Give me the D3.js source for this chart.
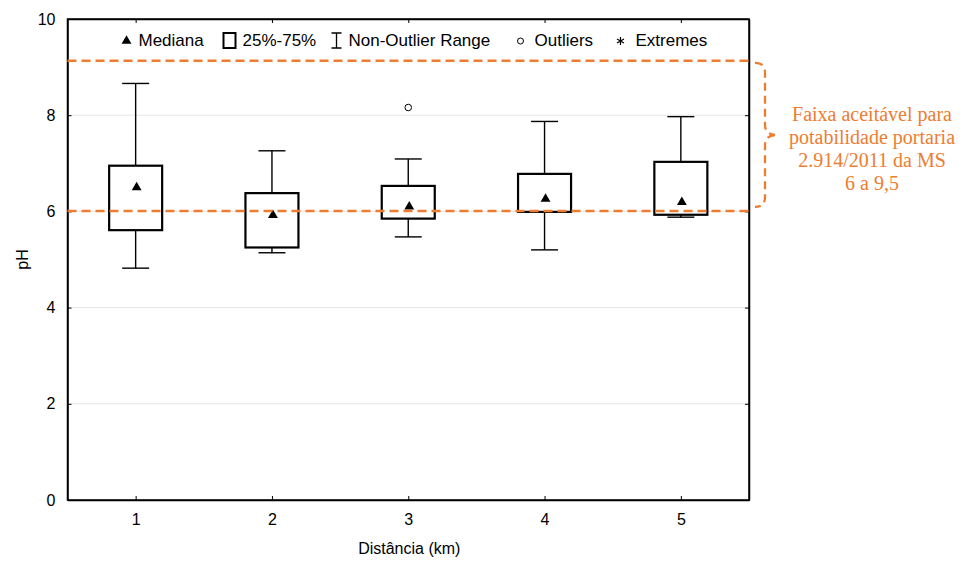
<!DOCTYPE html>
<html>
<head>
<meta charset="utf-8">
<script src="https://cdn.jsdelivr.net/npm/d3@7"></script>
<style>
  body { margin: 0; background: #fff; }
  svg text { font-family: "Liberation Sans", Arial, sans-serif; }
</style>
</head>
<body>
<div id="chart"></div>
<script>
// box plot values (pH) per distance
var distances = [1, 2, 3, 4, 5];
var whiskerLow = [4.82, 5.14, 5.47, 5.20, 5.88];
var q1 = [5.61, 5.25, 5.85, 5.99, 5.93];
var medians = [6.50, 5.92, 6.10, 6.26, 6.19];
var q3 = [6.95, 6.38, 6.53, 6.78, 7.03];
var whiskerHigh = [8.66, 7.26, 7.09, 7.87, 7.97];
var outliers = [[3, 8.16]];

var yTicks = [0, 2, 4, 6, 8, 10];
var gridTicks = [2, 4, 6, 8];
var limits = [6.01, 9.13];   // orange lines as drawn
var legendItems = ["Mediana", "25%-75%", "Non-Outlier Range", "Outliers", "Extremes"];
var noteLines = ["Faixa aceitável para", "potabilidade portaria", "2.914/2011 da MS", "6 a 9,5"];

var rows = distances.map(function(d, i) {
    return {d: d, lo: whiskerLow[i], q1: q1[i], med: medians[i], q3: q3[i], hi: whiskerHigh[i]};
});

var W = 970, H = 561;
var margin = {top: 19, left: 67.5, right: 221, bottom: 61};
var width = W - margin.left - margin.right;
var height = H - margin.top - margin.bottom;
var orange = "#ED7D31";

var svg = d3.select("#chart").append("svg")
    .attr("width", W)
    .attr("height", H);

var g = svg.append("g")
    .attr("transform", "translate(" + margin.left + "," + margin.top + ")");

var x = d3.scaleLinear().domain([0.5, 5.5]).range([0, width]);
var y = d3.scaleLinear().domain([0, 10]).range([height, 0]);

// grid
g.selectAll(".grid")
    .data(gridTicks)
    .enter().append("line")
    .attr("x1", 0).attr("x2", width)
    .attr("y1", function(d) { return y(d); })
    .attr("y2", function(d) { return y(d); })
    .attr("stroke", "#c8c8c8")
    .attr("stroke-width", 1)
    .attr("stroke-dasharray", "1,1");

// axes (ticks inside)
var yAxis = d3.axisLeft(y).tickValues(yTicks).tickSizeInner(-4).tickSizeOuter(0).tickPadding(12).tickFormat(d3.format("d"));
var xAxis = d3.axisBottom(x).tickValues(distances).tickSizeInner(-4).tickSizeOuter(0).tickPadding(14).tickFormat(d3.format("d"));

g.append("g").call(yAxis);
g.append("g").attr("transform", "translate(0," + height + ")").call(xAxis);
g.append("g").call(d3.axisTop(x).tickValues(distances).tickSizeInner(-4).tickSizeOuter(0).tickFormat(""));
g.append("g").attr("transform", "translate(" + width + ",0)")
    .call(d3.axisRight(y).tickValues(yTicks).tickSizeInner(-4).tickSizeOuter(0).tickFormat(""));

svg.selectAll(".domain").attr("stroke", "#000").attr("stroke-width", 1.5);
svg.selectAll(".tick line").attr("stroke", "#000");
svg.selectAll(".tick text").attr("font-size", 16).attr("fill", "#000")
    .style("font-family", "'Liberation Sans', Arial, sans-serif");

g.append("rect")
    .attr("width", width).attr("height", height)
    .attr("fill", "none").attr("stroke", "#000").attr("stroke-width", 1.5);

// axis titles
g.append("text")
    .attr("x", width / 2 + 1).attr("y", height + 54)
    .attr("text-anchor", "middle").attr("font-size", 16)
    .text("Distância (km)");

g.append("text")
    .attr("transform", "translate(" + (-40) + "," + (height / 2) + ") rotate(-90)")
    .attr("text-anchor", "middle").attr("font-size", 16)
    .text("pH");

// boxes
var boxW = 53, capW = 27;
var box = g.selectAll(".box")
    .data(rows)
    .enter().append("g")
    .attr("class", "box");

box.append("line")
    .attr("x1", function(d) { return x(d.d); })
    .attr("x2", function(d) { return x(d.d); })
    .attr("y1", function(d) { return y(d.hi); })
    .attr("y2", function(d) { return y(d.q3); })
    .attr("stroke", "#000").attr("stroke-width", 1.4);
box.append("line")
    .attr("x1", function(d) { return x(d.d); })
    .attr("x2", function(d) { return x(d.d); })
    .attr("y1", function(d) { return y(d.q1); })
    .attr("y2", function(d) { return y(d.lo); })
    .attr("stroke", "#000").attr("stroke-width", 1.4);
box.append("line")
    .attr("x1", function(d) { return x(d.d) - capW / 2; })
    .attr("x2", function(d) { return x(d.d) + capW / 2; })
    .attr("y1", function(d) { return y(d.hi); })
    .attr("y2", function(d) { return y(d.hi); })
    .attr("stroke", "#000").attr("stroke-width", 1.4);
box.append("line")
    .attr("x1", function(d) { return x(d.d) - capW / 2; })
    .attr("x2", function(d) { return x(d.d) + capW / 2; })
    .attr("y1", function(d) { return y(d.lo); })
    .attr("y2", function(d) { return y(d.lo); })
    .attr("stroke", "#000").attr("stroke-width", 1.4);
box.append("rect")
    .attr("x", function(d) { return x(d.d) - boxW / 2; })
    .attr("y", function(d) { return y(d.q3); })
    .attr("width", boxW)
    .attr("height", function(d) { return y(d.q1) - y(d.q3); })
    .attr("fill", "#fff").attr("stroke", "#000").attr("stroke-width", 2.2);

var tri = d3.symbol().type(d3.symbolTriangle).size(42);

// orange limit lines
g.selectAll(".limit")
    .data(limits)
    .enter().append("line")
    .attr("x1", 0).attr("x2", width)
    .attr("y1", function(d) { return y(d); })
    .attr("y2", function(d) { return y(d); })
    .attr("stroke", orange).attr("stroke-width", 2.5)
    .attr("stroke-dasharray", "9,5");

box.append("path")
    .attr("d", tri)
    .attr("transform", function(d) { return "translate(" + (x(d.d) + 1) + "," + y(d.med) + ")"; })
    .attr("fill", "#000");

g.selectAll(".outlier")
    .data(outliers)
    .enter().append("circle")
    .attr("cx", function(d) { return x(d[0]); })
    .attr("cy", function(d) { return y(d[1]); })
    .attr("r", 3.3)
    .attr("fill", "#fff").attr("stroke", "#000").attr("stroke-width", 1);

// legend
var ly = 21;
var lg = g.append("g").attr("font-size", 17);
lg.append("path").attr("d", tri).attr("transform", "translate(59," + (ly + 1) + ")").attr("fill", "#000");
lg.append("text").attr("x", 71).attr("y", ly + 6).text(legendItems[0]);
lg.append("rect").attr("x", 156).attr("y", ly - 7).attr("width", 12).attr("height", 15)
    .attr("fill", "none").attr("stroke", "#000").attr("stroke-width", 2);
lg.append("text").attr("x", 175).attr("y", ly + 6).text(legendItems[1]);
lg.append("path").attr("d", "M264," + (ly - 7) + "H274M269," + (ly - 7) + "V" + (ly + 8) + "M264," + (ly + 8) + "H274")
    .attr("stroke", "#000").attr("stroke-width", 1.3).attr("fill", "none");
lg.append("text").attr("x", 281).attr("y", ly + 6).text(legendItems[2]);
lg.append("circle").attr("cx", 453).attr("cy", ly + 1).attr("r", 3)
    .attr("fill", "none").attr("stroke", "#000").attr("stroke-width", 1);
lg.append("text").attr("x", 467).attr("y", ly + 6).text(legendItems[3]);
// asterisk symbol for extremes
var ax = 553, ay = ly + 1, ar = 4;
lg.append("path")
    .attr("d", "M" + ax + "," + (ay - ar) + "V" + (ay + ar) +
        "M" + (ax - 3.5) + "," + (ay - 2) + "L" + (ax + 3.5) + "," + (ay + 2) +
        "M" + (ax - 3.5) + "," + (ay + 2) + "L" + (ax + 3.5) + "," + (ay - 2))
    .attr("stroke", "#000").attr("stroke-width", 1.2).attr("fill", "none");
lg.append("text").attr("x", 568).attr("y", ly + 6).text(legendItems[4]);

// brace and note
var bx = margin.left + width;
var yTop = margin.top + y(limits[1]) + 2;
var yBot = margin.top + y(limits[0]) - 4;
var yMid = 135;
var vx = bx + 16;
svg.append("path")
    .attr("d", "M" + (bx + 6) + "," + yTop +
        " Q" + vx + "," + yTop + " " + vx + "," + (yTop + 10) +
        " L" + vx + "," + (yMid - 10) +
        " Q" + vx + "," + (yMid - 1) + " " + (bx + 26) + "," + yMid +
        " M" + (bx + 26) + "," + yMid +
        " Q" + vx + "," + (yMid + 1) + " " + vx + "," + (yMid + 10) +
        " L" + vx + "," + (yBot - 10) +
        " Q" + vx + "," + yBot + " " + (bx + 6) + "," + yBot)
    .attr("fill", "none").attr("stroke", orange).attr("stroke-width", 2.3)
    .attr("stroke-dasharray", "8,5");

svg.append("g").selectAll("text")
    .data(noteLines)
    .enter().append("text")
    .attr("x", 872)
    .attr("y", function(d, i) { return 121 + i * 23; })
    .attr("text-anchor", "middle")
    .attr("font-size", 20)
    .attr("fill", orange)
    .style("font-family", "'Liberation Serif', 'Times New Roman', serif")
    .text(function(d) { return d; });
</script>
</body>
</html>
